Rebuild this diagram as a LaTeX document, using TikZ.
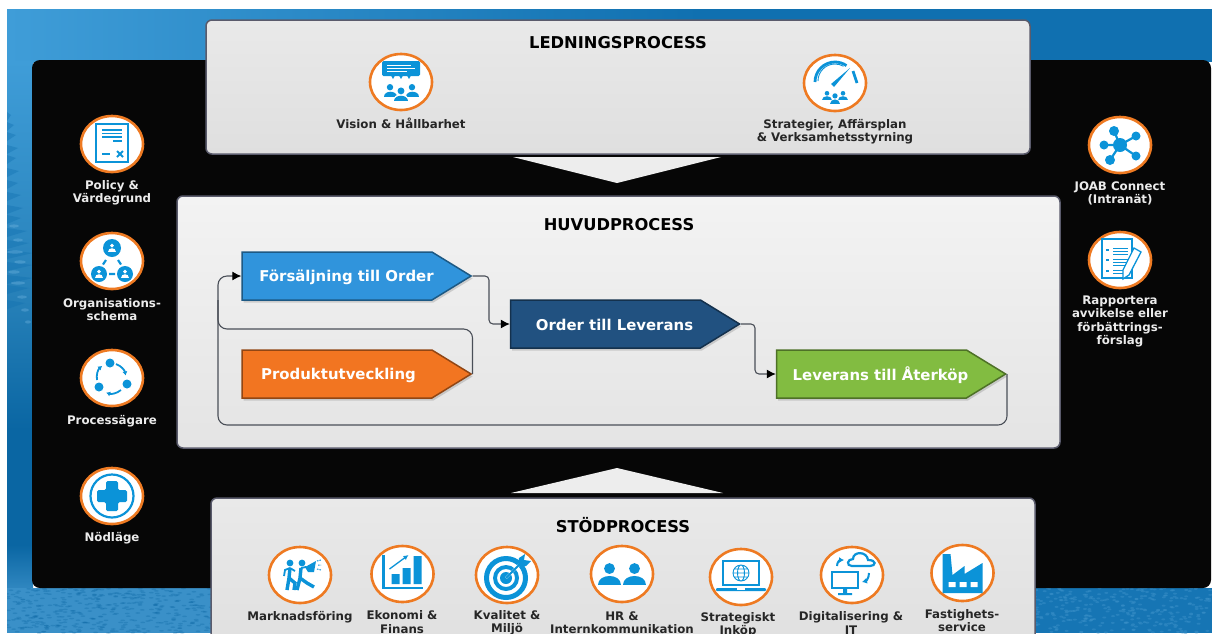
\documentclass[tikz,border=0pt]{standalone}
\usepackage{fontspec}
\setmainfont{DejaVu Sans}
\usetikzlibrary{shapes.geometric,shapes.symbols,arrows.meta,shadows,calc}
\definecolor{icb}{HTML}{0B93D8}
\definecolor{ringo}{HTML}{EE7A22}
\definecolor{pblue}{HTML}{3094DC}
\definecolor{pnavy}{HTML}{215180}
\definecolor{porange}{HTML}{F27521}
\definecolor{pgreen}{HTML}{82BC41}
\definecolor{edgeg}{HTML}{5A5B6C}
\definecolor{panel}{HTML}{060606}
\definecolor{linkg}{HTML}{4A4F58}
\definecolor{bga}{HTML}{3F9DD8}
\definecolor{bgb}{HTML}{1070B0}
\definecolor{bgc}{HTML}{2680B8}
\definecolor{bgd}{HTML}{0A66A3}
\definecolor{bge}{HTML}{3A90C8}
\definecolor{boxa}{HTML}{E9E9E9}
\definecolor{boxb}{HTML}{DFDFDF}
\definecolor{boxc}{HTML}{F3F3F3}
\definecolor{boxd}{HTML}{E4E4E4}
\tikzset{
  iconc/.style={ellipse,draw=ringo,line width=2.6pt,fill=white,minimum width=62pt,minimum height=56pt,inner sep=0pt},
  panelbox/.style={rounded corners=6pt,draw=edgeg,line width=1.5pt},
  sig/.style={signal,signal to=east,signal from=nowhere,signal pointer angle=63,minimum width=229pt,minimum height=48pt,inner sep=0pt,draw=#1!60!black,line width=1.5pt,fill=#1,drop shadow={shadow xshift=1.5pt,shadow yshift=-2.5pt,opacity=.14,fill=black}},
  sigtext/.style={text=white,font=\fontsize{14.9}{17}\selectfont\bfseries,inner sep=0pt},
  title/.style={text=black,font=\fontsize{16.3}{18}\selectfont\bfseries,inner sep=0pt},
  lab/.style={align=center,inner sep=0pt,font=\fontsize{11.8}{13.3}\selectfont\bfseries},
  labw/.style={lab,text=white!92!black},
  labk/.style={lab,text=black!85},
  conn/.style={draw=linkg,line width=1.1pt,rounded corners=#1},
  conn/.default=4pt,
  tipk/.style={-{Latex[length=9pt,width=9pt,black]}},
  ico/.style={draw=icb,line width=2.2pt},
  icl/.style={draw=icb,line width=1.3pt},
}
\newcommand{\person}[4]{%
  \fill[#1] (#2,{#3-3.8*#4}) circle [radius={3.2pt*#4}];
  \fill[#1] ({#2-6.5*#4},{#3+6*#4}) .. controls ({#2-6.5*#4},{#3-1*#4}) and ({#2+6.5*#4},{#3-1*#4}) .. ({#2+6.5*#4},{#3+6*#4}) -- cycle;}
\newcommand{\orgperson}[3]{%
  \fill[icb] (#1,#2) circle [radius=#3pt];
  \person{white}{#1}{#2}{0.62}}
\begin{document}
\begin{tikzpicture}[x=1pt,y=-1pt]
\useasboundingbox (0,0) rectangle (1212,633);
\clip (0,0) rectangle (1212,633);
\fill[white] (0,0) rectangle (1212,633);
% ---------- background
\shade[left color=bga,right color=bgb] (7,9) rectangle (700,62);
\fill[bgb] (700,9) rectangle (1212,62);
\shade[top color=bga,bottom color=bgc] (7,61) rectangle (33,300);
\shade[top color=bgc,bottom color=bgd] (7,300) rectangle (33,430);
\fill[bgd] (7,430) rectangle (33,545);
\shade[top color=bgd,bottom color=bge] (7,545) rectangle (33,600);
\fill[bge] (7,588) rectangle (215,633);
\fill[bgb!85!bge] (1030,588) rectangle (1212,633);
\begin{scope}
\clip (7,61) rectangle (215,633);
\pgfmathsetseed{7}
\foreach \i in {1,...,420}{
  \pgfmathsetmacro{\px}{7+rnd*208}\pgfmathsetmacro{\py}{588+rnd*45}
  \fill[bgd,opacity=.3] (\px,\py) ellipse [x radius=2.4pt,y radius=.8pt];}
% tree on the left strip
\foreach \yy/\ww in {112/4,122/7,132/9,145/11,155/9,168/12,180/11,192/14,205/16,215/14,228/20,240/22,250/26,262/26,275/26,285/22,300/18}{
  \fill[bgb,opacity=.38] (7,\yy) -- ({7+\ww},{\yy+3}) -- (7,{\yy+9}) -- cycle;}
\foreach \yy/\xa/\ww in {226/14/10,240/18/10,252/15/16,262/20/12,272/14/12,283/18/14,297/22/10,310/25/8,322/28/6}{
  \fill[bga!70!white,opacity=.35] (\xa,\yy) ellipse [x radius=\ww pt/2,y radius=1.6pt];}
\end{scope}
\pgfmathsetseed{11}
\foreach \i in {1,...,320}{
  \pgfmathsetmacro{\px}{1030+rnd*182}\pgfmathsetmacro{\py}{588+rnd*45}
  \fill[bge,opacity=.5] (\px,\py) ellipse [x radius=2pt,y radius=1pt];}
% ---------- panel and boxes
\fill[panel,rounded corners=8pt] (32,60) rectangle (1211,588);
\draw[panelbox,top color=boxa,bottom color=boxb] (206,20) rectangle (1030,154);
\draw[panelbox,top color=boxc,bottom color=boxd] (177,196) rectangle (1060,448);
\draw[panelbox,top color=boxa,bottom color=boxb] (211,498) rectangle (1035,660);
\fill[white!93!black] (513,157) -- (721,157) -- (617,183) -- cycle;
\fill[white!93!black] (511,493) -- (723,493) -- (617,468) -- cycle;
% ---------- titles
\node[title] (t1) at (618,43) {LEDNINGSPROCESS};
\node[title] (t2) at (619,225) {HUVUDPROCESS};
\node[title] (t3) at (623,525) {STÖDPROCESS};
% ---------- process shapes
\node[sig=pblue] (fs) at (337,276) {};
\node[sig=pnavy] (os) at (605.5,324) {};
\node[sig=porange] (ps) at (337,374) {};
\node[sig=pgreen] (ls) at (871.5,374) {};
\node[sigtext] (fst) at (346.5,277) {Försäljning till Order};
\node[sigtext] (ost) at (614.5,325) {Order till Leverans};
\node[sigtext] (pst) at (338.5,375) {Produktutveckling};
\node[sigtext] (lst) at (880.5,375) {Leverans till Återköp};
% ---------- connectors
\coordinate (j1) at (489,276);
\coordinate (j2) at (755,324);
\coordinate (a2) at (218,329);
\coordinate (a1) at (ps.east |- a2);
\coordinate (a3) at (218,276);
\coordinate (a4) at (218,300);
\coordinate (b2) at (218,425);
\coordinate (b1) at (ls.east |- b2);
\draw[conn,tipk] (fs.east) -- (j1) |- (os.west);
\draw[conn,tipk] (os.east) -- (j2) |- (ls.west);
\draw[conn=9pt] (ps.east) -- (a1) -- (a2) -- (a4);
\draw[conn=9pt,tipk] (ls.east) -- (b1) -- (b2) -- (a3) -- (fs.west);
% ---------- icons: left column
\node[iconc] (i1) at (112,144) {};
\begin{scope}[shift={(112,144)}]
  \draw[ico] (-16,-20) rectangle (16,18);
  \foreach \yy in {-14,-10.5,-7}{\draw[icl,line width=1.6pt] (-10,\yy) -- (10,\yy);}
  \draw[icl,line width=1.6pt] (1,-3) -- (10,-3);
  \draw[icl,line width=2pt] (-10,10) -- (-2,10);
  \draw[icl,line width=2pt] (5,7) -- (11,13) (5,13) -- (11,7);
\end{scope}
\node[iconc] (i2) at (112,261) {};
\begin{scope}[shift={(112,261)}]
  \orgperson{0}{-13}{9}
  \orgperson{-13}{13}{8}
  \orgperson{13}{13}{8}
  \draw[ico] (-6,-1) -- (-9,3.5) (6,-1) -- (9,3.5) (-3,13) -- (3,13);
\end{scope}
\node[iconc] (i3) at (112,378) {};
\begin{scope}[shift={(112,378)}]
  \fill[icb] (-2,-15) circle [radius=4.5pt] (15,6) circle [radius=4.5pt] (-13,9) circle [radius=4.5pt];
  \draw[icl,line width=1.8pt,-{Latex[length=4pt,width=5pt]}] (4,-14) arc [start angle=70,end angle=10,radius=15pt];
  \draw[icl,line width=1.8pt,-{Latex[length=4pt,width=5pt]}] (9,12) arc [start angle=-50,end angle=-110,radius=15pt];
  \draw[icl,line width=1.8pt,-{Latex[length=4pt,width=5pt]}] (-15,2) arc [start angle=190,end angle=130,radius=15pt];
\end{scope}
\node[iconc] (i4) at (112,496) {};
\begin{scope}[shift={(112,496)}]
  \draw[icb,line width=2.2pt] (0,0) circle [radius=21.5pt];
  \fill[icb,rounded corners=1.5pt] (-6,-15) -- (6,-15) -- (6,-6) -- (15,-6) -- (15,6) -- (6,6) -- (6,15) -- (-6,15) -- (-6,6) -- (-15,6) -- (-15,-6) -- (-6,-6) -- cycle;
\end{scope}
% ---------- icons: management
\node[iconc] (v1) at (401,82) {};
\begin{scope}[shift={(401,82)}]
  \fill[icb,rounded corners=1.5pt] (-19,-21) rectangle (19,-6);
  \fill[icb] (-10,-6.5) -- (-6,-6.5) -- (-8,-3) -- cycle (-2,-6.5) -- (2,-6.5) -- (0,-3) -- cycle (6,-6.5) -- (10,-6.5) -- (8,-3) -- cycle;
  \draw[white,line width=.9pt] (-14,-17) -- (10,-17) (-14,-14) -- (14,-14) (-14,-11) -- (6,-11);
  \person{icb}{-11}{9}{1}
  \person{icb}{11}{9}{1}
  \person{white}{0}{11}{1.3}
  \person{icb}{0}{13}{1.08}
\end{scope}
\node[iconc] (v2) at (835,83) {};
\begin{scope}[shift={(835,83)}]
  \draw[icb,line width=2.8pt] (-20,-1) arc [start angle=180,end angle=55,radius=20pt];
  \draw[icb,line width=2.8pt] (18,-12) -- (22,0);
  \draw[icb,line width=.9pt] (-17,-2) arc [start angle=180,end angle=60,radius=17pt];
  \fill[icb] (15,-15) -- (-1,4) -- (-4,1) -- cycle;
  \person{icb}{-8}{13}{.72}
  \person{icb}{8}{13}{.72}
  \person{white}{0}{15}{.95}
  \person{icb}{0}{16}{.82}
\end{scope}
% ---------- icons: right column
\node[iconc] (r1) at (1120,145) {};
\begin{scope}[shift={(1120,145)}]
  \draw[ico] (0,0) -- (-6,-14) (0,0) -- (16,-9) (0,0) -- (-16,0) (0,0) -- (16,11) (0,0) -- (-10,15);
  \fill[icb] (0,0) circle [radius=7pt] (-6,-14) circle [radius=5pt] (16,-9) circle [radius=4.5pt] (-16,0) circle [radius=4.5pt] (16,11) circle [radius=4.5pt] (-10,15) circle [radius=5pt];
\end{scope}
\node[iconc] (r2) at (1120,260) {};
\begin{scope}[shift={(1120,260)}]
  \draw[icl] (-18,-21) rectangle (12,18);
  \foreach \yy in {-12,-9,-6,-1,2,5,10,13}{\draw[icb,line width=1pt] (-7,\yy) -- (8,\yy);}
  \draw[icl] (-14,-10) -- (-11,-10) (-14,0) -- (-11,0) (-14,11) -- (-11,11);
  \fill[white] (14,-12) -- (21,-8) -- (9,15) -- (3,19) -- (3,10) -- cycle;
  \draw[icl] (14,-12) -- (21,-8) -- (9,15) -- (3,19) -- (3,10) -- cycle;
\end{scope}
% ---------- icons: support
\node[iconc] (s1) at (300,575) {};
\begin{scope}[shift={(300,575)}]
  \fill[icb] (-10,-12) circle [radius=3.4pt] (2,-12) circle [radius=3.4pt];
  \draw[icb,line width=3.4pt] (-10,-7) -- (-11,3) -- (-13,15) (-11,3) -- (-5,8) -- (-6,15);
  \draw[icb,line width=1.8pt] (-10,-7) -- (-15,-5) -- (-16,1) (-10,-7) -- (-5,-4);
  \draw[icb,line width=3.4pt] (1,-7) -- (0,3) -- (-3,15) (0,3) -- (7,8) -- (14,12);
  \draw[icb,line width=1.8pt] (1,-7) -- (6,-8);
  \fill[icb] (5,-8) -- (16,-14) -- (14,-3) -- (8,-3) -- cycle;
  \draw[icb,line width=1pt,dash pattern=on 1.5pt off 1pt] (17,-14) -- (21,-15) (18,-10) -- (21,-10) (17,-6) -- (21,-5);
\end{scope}
\node[iconc] (s2) at (402.5,574) {};
\begin{scope}[shift={(402.5,574)}]
  \draw[ico,line width=2.6pt] (-19,-19) -- (-19,14) -- (20,14);
  \fill[icb] (-11,0) rectangle (-3,10) (0,-6) rectangle (8,10) (11,-18) rectangle (19,10);
  \draw[icb,line width=1.3pt,-{Latex[length=5pt,width=5pt]}] (-13,-5) -- (6,-19);
\end{scope}
\node[iconc] (s3) at (507,575) {};
\begin{scope}[shift={(507,575)}]
  \fill[icb,even odd rule] (-1,3) circle [radius=22pt] (-1,3) circle [radius=17pt];
  \fill[icb,even odd rule] (-1,3) circle [radius=13pt] (-1,3) circle [radius=9pt];
  \fill[icb] (-1,3) circle [radius=6pt];
  \draw[white,line width=2.2pt] (-1,3) -- (17,-15);
  \draw[icb,line width=1.8pt] (-1,3) -- (13,-11);
  \fill[icb] (11,-9) -- (12,-17) -- (18,-21) -- (17,-15) -- (24,-14) -- (19,-9) -- cycle;
\end{scope}
\node[iconc] (s4) at (622,574) {};
\begin{scope}[shift={(622,574)}]
  \person{icb}{-12.5}{1}{1.7}
  \person{icb}{12.5}{1}{1.7}
\end{scope}
\node[iconc] (s5) at (741,577) {};
\begin{scope}[shift={(741,577)}]
  \draw[ico] (-18,-16) rectangle (18,8);
  \fill[icb,rounded corners=1pt] (-25,11) rectangle (25,14);
  \fill[white] (-4,11) rectangle (4,12.5);
  \draw[icb,line width=.9pt] (0,-4) circle [radius=8pt] (0,-4) ellipse [x radius=3.5pt,y radius=8pt] (-8,-4) -- (8,-4) (-7,-8) -- (7,-8) (-7,0) -- (7,0);
\end{scope}
\node[iconc] (s6) at (852,575) {};
\begin{scope}[shift={(852,575)}]
  \draw[ico] (0,-9) .. controls (-6,-9) and (-5,-16) .. (1,-16) .. controls (1,-24) and (15,-24) .. (16,-15) .. controls (25,-15) and (24,-9) .. (18,-9) -- cycle;
  \draw[ico] (-20,-3) rectangle (6,13);
  \fill[icb] (-9,14) rectangle (-5,18) (-14,18) rectangle (0,20);
  \draw[icb,line width=2pt,-{Latex[length=5pt,width=6pt]}] (-15,-9) .. controls (-15,-13) and (-12,-15) .. (-8,-15);
  \draw[icb,line width=2pt,-{Latex[length=5pt,width=6pt]}] (17,-2) .. controls (17,3) and (14,6) .. (10,7);
\end{scope}
\node[iconc] (s7) at (962.5,573) {};
\begin{scope}[shift={(962.5,573)}]
  \fill[icb] (-20,20) -- (-20,-19) -- (-12,-19) -- (-10,2) -- (2,-7) -- (2,1) -- (20,-10) -- (20,20) -- cycle;
  \fill[white] (-14,9) rectangle (-7,14) (-3,9) rectangle (4,14) (8,9) rectangle (15,14);
\end{scope}
% ---------- labels
\node[labk] (lv1) at (401,123.5) {Vision \& Hållbarhet};
\node[labk] (lv2) at (835,131.5) {Strategier, Affärsplan\\\& Verksamhetsstyrning};
\node[labw] (lr1) at (112,192.7) {Policy \&\\Värdegrund};
\node[labw] (lr2) at (112,309.5) {Organisations-\\schema};
\node[labw] (lr3) at (112,421) {Processägare};
\node[labw] (lr4) at (112,538) {Nödläge};
\node[labw] (lq1) at (1120,193.5) {JOAB Connect\\(Intranät)};
\node[labw] (lq2) at (1120,321.5) {Rapportera\\avvikelse eller\\förbättrings-\\förslag};
\node[labk] (ls1) at (300,617) {Marknadsföring};
\node[labk] (ls2) at (402,622) {Ekonomi \&\\Finans};
\node[labk] (ls3) at (507,623) {Kvalitet \&\\Miljö};
\node[labk] (ls4) at (622,623) {HR \&\\Internkommunikation};
\node[labk] (ls5) at (738,625) {Strategiskt\\Inköp};
\node[labk] (ls6) at (851,623) {Digitalisering \&\\IT};
\node[labk] (ls7) at (962,620.5) {Fastighets-\\service};
\end{tikzpicture}
\end{document}
